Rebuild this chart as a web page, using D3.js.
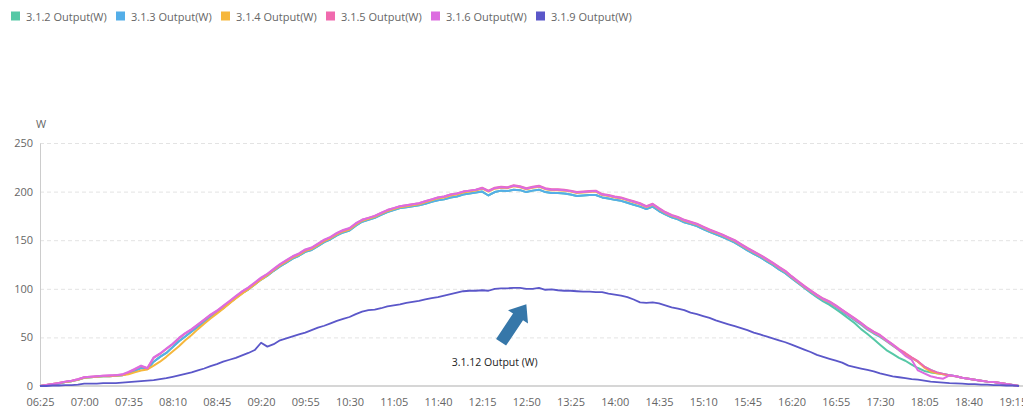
<!DOCTYPE html>
<html>
<head>
<meta charset="utf-8">
<script src="https://cdn.jsdelivr.net/npm/d3@7"></script>
<style>
  html, body { margin: 0; padding: 0; background: #fff; }
  svg { display: block; font-family: "Open Sans", "Noto Sans", sans-serif; }
</style>
</head>
<body>
<svg id="chart" width="1023" height="409"></svg>
<script>
// Five-minute readings from 06:25 to 19:20
const startTime = "06:25";
const stepMinutes = 5;
const pointCount = 156;

const tickLabels = ["06:25","07:00","07:35","08:10","08:45","09:20","09:55","10:30","11:05","11:40","12:15","12:50",
  "13:25","14:00","14:35","15:10","15:45","16:20","16:55","17:30","18:05","18:40","19:15"];
const yTicks = [0, 50, 100, 150, 200, 250];

const seriesNames = ["3.1.2 Output(W)", "3.1.3 Output(W)", "3.1.4 Output(W)", "3.1.5 Output(W)", "3.1.6 Output(W)", "3.1.9 Output(W)"];
const seriesColors = ["#56c8a6", "#54aee8", "#f6b73c", "#f06aae", "#dc6ce0", "#5b57c9"];

const out312 = [
  0,1,1.5,2.5,4,5,6.5,8.5,9,9.5,
  10,10,10.5,11,13,15.5,18.5,17.5,25,30,
  34,40,46,51,56,61,66,71,75.5,80,
  85.5,90.5,95.5,99.5,104.5,109.5,113.5,118.5,123,127,
  131,134,138,140,144,148,151,155,158,160,
  165,169,171,173,176,179,181,183,184,185,
  186,187.5,189.5,191,192,194,195,197,198,199,
  200,196,199.5,201,200.5,202,201.5,199.5,201,202,
  199.5,198.5,198.5,198,197,195.5,196,196.5,196.5,194,
  193,191.5,190.5,188.5,186.5,184.5,182,184.5,180,176.5,
  173.5,171.5,168.5,166.5,164.5,161.5,158.5,156,153.5,150.5,
  147.5,143.5,139.5,136,132.5,128.5,124.5,120,116,111,
  106,101,96,91.5,87,83.5,79,74.5,69.5,64.5,
  58.5,53.5,48,42.5,37,33,29,26,22,18.5,
  15.5,14,13,12,11,10,8.5,7.5,6.5,5.5,
  4.5,4,3,2,1,0
];
const out313 = [
  0,1,1.5,2.5,4,5,6.5,8.5,9,9.5,
  10,10,10.5,11,13,15.5,18.5,17.5,25,30,
  34,40,46,51,56,61,66,71,75.5,80,
  85.5,90.5,95.5,99.5,104.5,109.5,113.5,118.5,123,127,
  131,134,138,140,144,148,151,155,158,160,
  165,169,171,173,176,179,181,183,184,185,
  186,187.5,189.5,191,192,194,195,197,198,199,
  200,196,199.5,201,200.5,202,201.5,199.5,201,202,
  199.5,198.5,198.5,198,197,195.5,196,196.5,196.5,194,
  193,191.5,190.5,188.5,186.5,184.5,182,184.5,180,176.5,
  173.5,171.5,168.5,166.5,164.5,161.5,158.5,156,153.5,150.5,
  147.5,143.5,139.5,136,132.5,128.5,124.5,120,116,111,
  106,101,96.5,92,88,85,81,76.5,72,67.5,
  63,58,54,50.5,46,41.5,37,33,29,25,
  20,16.5,14,12.5,11,10,8.5,7.5,6.5,5.5,
  4.5,4,3,2,1,0
];
const out314 = [
  0,1,2,3,4,5,6.5,8.5,9,9.5,
  10,10,10.5,11,12,14,16,17,21,25,
  30,35.5,41,47,52.5,58.5,64,69.5,74.5,79.5,
  85,90,95,99.5,104.5,109.5,114,119,124,128,
  132,135,139,141,145,149,152,156,159,161,
  166,170,172,174,177,180,182,184,185,186,
  187,189,191,193,194,196,197,199,200,201,
  203,200,203,204,203.5,205.5,204.5,202.5,204,205,
  202.5,201.5,201.5,201,200,198.5,199,199.5,200,196.5,
  195.5,194,193,191,189,187,184,186.5,182,178,
  175,173,170,168,166,163,160,157.5,155,152,
  149,145,141,137.5,134,130,126,121.5,117.5,112,
  107,102,97.5,93,89,86,82,77.5,73,68.5,
  64,59,55,51.5,46.5,42,37,33,29,25,
  19,15,13,12,10.5,10,8.5,7.5,6.5,5.5,
  4.5,4,3,2,1,0
];
const out315 = [
  0,1,2,3,4.5,5.5,7,9,9.5,10,
  10.5,10.5,11,11.5,14,17,20.5,18,29,33,
  38,43,49,54,58,63,68,73,77,82,
  87,92,97,101,106,111,115,120,125,129,
  133,136,140,142,146,150,153,157,160,162,
  167,171,173,175,178,181,183,185,186,187,
  188,190,192,194,195,197,198,200,201,202,
  204,201,204,205,204.5,206.5,205.5,203.5,205,206,
  203.5,202.5,202.5,202,201,199.5,200,200.5,201,197.5,
  196.5,195,194,192,190,188,185,187.5,183,179,
  176,174,171,169,167,164,161,158.5,156,153,
  150,146,142,138.5,135,131,127,122.5,118.5,113,
  108,103,98.5,94,90,87,83,78.5,74,69.5,
  65,60,56,52.5,47.5,43,38,34,29.5,25.5,
  20,16.5,14,12.5,11,10,8.5,7.5,6.5,5.5,
  4.5,4,3,2,1,0
];
const out316 = [
  0,1,2,3,4.5,5.5,7,9,9.5,10,
  10.5,11,11,12,14.5,17.5,21,18.5,29.5,33.5,
  38.5,43.5,49.5,54.5,58.5,63.5,68.5,73.5,77.5,82.5,
  87.5,92.5,97.5,101.5,106.5,111.5,115.5,120.5,125.5,129.5,
  133.5,136.5,140.5,142.5,146.5,150.5,153.5,157.5,160.5,162.5,
  167.5,171,173,175,178,181,183,185,186,187,
  188,190,192,194,195,197,198,200,201,202,
  203.5,200.5,203.5,204.5,204,206,205,203,204.5,205.5,
  203,202,202,201.5,200.5,199,199.5,200,200.5,197,
  196,194.5,193.5,191.5,189.5,187.5,184.5,187,182.5,178.5,
  175.5,173.5,170.5,168.5,166.5,163.5,160.5,158,155.5,152.5,
  149.5,145.5,141.5,138,134.5,130.5,126.5,122,118,112.5,
  107.5,102.5,98,93.5,89.5,86.5,82.5,78,73.5,69,
  64.5,59.5,55.5,52,47,42.5,37,31,27,16,
  13,10,8.5,7.5,11,10,8.5,7.5,6.5,5.5,
  4.5,4,3,2,1,0
];
const out319 = [
  0,0,0.5,0.5,1,1,1.5,2.5,2.5,2.5,
  3,3,3,3.5,4,4.5,5,5.5,6,7,
  8,9.5,11,12.5,14,16,18,20.5,22.5,25,
  27,29,31.5,34,37,44.5,40.5,43,47,49,
  51,53,55,57.5,60,62,64.5,67,69,71,
  74,76.5,78,78.5,80,82,83,84,85.5,86.5,
  87.5,89,90.5,91.5,93,94.5,96,97.5,98,98,
  98.5,98,100,100.5,100.5,101,101,100,100,101,
  99,99.5,98.5,98,98,97.5,97,97,96.5,96.5,
  95,94,93,91.5,89,86,85.5,86,85,83,
  81,79.5,78,75.5,74,72,70,67.5,65.5,63.5,
  61.5,59.5,57.5,55,53,51,49,47,45,42.5,
  40,37.5,35,32,30,28,26,24,21,19.5,
  18,16.5,15,13,11.5,10,9,8,7,6.5,
  5.5,4.5,4,3.5,3,2.8,2.5,2,2,1.5,
  1.5,1,1,0.5,0.5,0
];
const seriesValues = [out312, out313, out314, out315, out316, out319];

// Callout under the 3.1.9 curve
const calloutText = "3.1.12 Output (W)";

// ---- category axis (HH:MM) ----
const parseHM = d3.timeParse("%H:%M");
const fmtHM = d3.timeFormat("%H:%M");
const t0 = parseHM(startTime);
const times = d3.range(pointCount).map(k => fmtHM(d3.timeMinute.offset(t0, k * stepMinutes)));

const svg = d3.select("#chart");
const W = 1023, H = 409;
const plot = { left: 40, right: 1019, top: 143, bottom: 386 };

const x = d3.scalePoint().domain(times).range([plot.left, plot.right]);
const y = d3.scaleLinear().domain([0, 250]).range([plot.bottom, plot.top]);

// horizontal dashed grid
const grid = svg.append("g")
  .attr("transform", `translate(${plot.left},0)`)
  .call(d3.axisLeft(y).tickValues(yTicks.filter(v => v > 0)).tickSize(-(W - plot.left)).tickFormat(""));
grid.select(".domain").remove();
grid.selectAll(".tick line")
  .attr("stroke", "#e3e3e3")
  .attr("stroke-dasharray", "4,3");

// y axis labels and line
const yAxis = svg.append("g")
  .attr("transform", `translate(${plot.left},0)`)
  .call(d3.axisLeft(y).tickValues(yTicks).tickSize(0).tickPadding(7));
yAxis.select(".domain").attr("stroke", "#ccc").attr("stroke-width", 1);
yAxis.selectAll("text")
  .attr("fill", "#666")
  .style("font-size", "11px")
  .style("font-family", "'Open Sans', 'Noto Sans', sans-serif");

svg.append("text")
  .attr("x", plot.left + 1)
  .attr("y", plot.top - 20)
  .attr("text-anchor", "middle")
  .attr("dominant-baseline", "central")
  .attr("fill", "#666")
  .style("font-size", "11px")
  .text("W");

// x axis
const xAxis = svg.append("g")
  .attr("transform", `translate(0,${plot.bottom})`)
  .call(d3.axisBottom(x).tickValues(tickLabels).tickSize(0).tickPadding(12));
xAxis.select(".domain").remove();
xAxis.selectAll("text")
  .attr("fill", "#666")
  .style("font-size", "11px")
  .style("font-family", "'Open Sans', 'Noto Sans', sans-serif");
svg.append("line")
  .attr("x1", plot.left).attr("x2", W)
  .attr("y1", y(0)).attr("y2", y(0))
  .attr("stroke", "#c8c8c8").attr("stroke-width", 1.5);

// series lines
const line = d3.line()
  .x((d, k) => x(times[k]))
  .y(d => y(d));

svg.append("g").selectAll("path")
  .data(seriesValues)
  .join("path")
  .attr("d", d => line(d))
  .attr("fill", "none")
  .attr("stroke", (d, k) => seriesColors[k])
  .attr("stroke-width", (d, k) => k === 5 ? 1.8 : 2)
  .attr("stroke-linejoin", "round");

// legend
const legend = svg.append("g").attr("transform", "translate(11,0)");
const items = legend.selectAll("g")
  .data(seriesNames)
  .join("g")
  .attr("transform", (d, k) => `translate(${k * 105},0)`);
items.append("rect")
  .attr("x", 0).attr("y", 11.5)
  .attr("width", 9).attr("height", 9)
  .attr("fill", (d, k) => seriesColors[k]);
items.append("text")
  .attr("x", 15).attr("y", 16)
  .attr("dominant-baseline", "central")
  .attr("fill", "#666")
  .style("font-size", "11px")
  .text(d => d);

// callout arrow pointing up at the 3.1.9 curve
const tail = [x(times[73]), y(45)];
const tip = [x(times[77]), y(84)];
const dx = tip[0] - tail[0], dy = tip[1] - tail[1];
const len = Math.hypot(dx, dy);
const ux = dx / len, uy = dy / len;
const px = -uy, py = ux;
const shaftHalf = 6, headHalf = 12, headLen = 15;
const base = [tip[0] - ux * headLen, tip[1] - uy * headLen];
const arrowPts = [
  [tail[0] + px * shaftHalf, tail[1] + py * shaftHalf],
  [base[0] + px * shaftHalf, base[1] + py * shaftHalf],
  [base[0] + px * headHalf, base[1] + py * headHalf],
  tip,
  [base[0] - px * headHalf, base[1] - py * headHalf],
  [base[0] - px * shaftHalf, base[1] - py * shaftHalf],
  [tail[0] - px * shaftHalf, tail[1] - py * shaftHalf]
];
svg.append("path")
  .attr("d", d3.line()(arrowPts) + "Z")
  .attr("fill", "#3677a9");

svg.append("text")
  .attr("x", x(times[72]))
  .attr("y", y(25))
  .attr("text-anchor", "middle")
  .attr("dominant-baseline", "central")
  .attr("fill", "#222")
  .style("font-size", "10.5px")
  .text(calloutText);
</script>
</body>
</html>
